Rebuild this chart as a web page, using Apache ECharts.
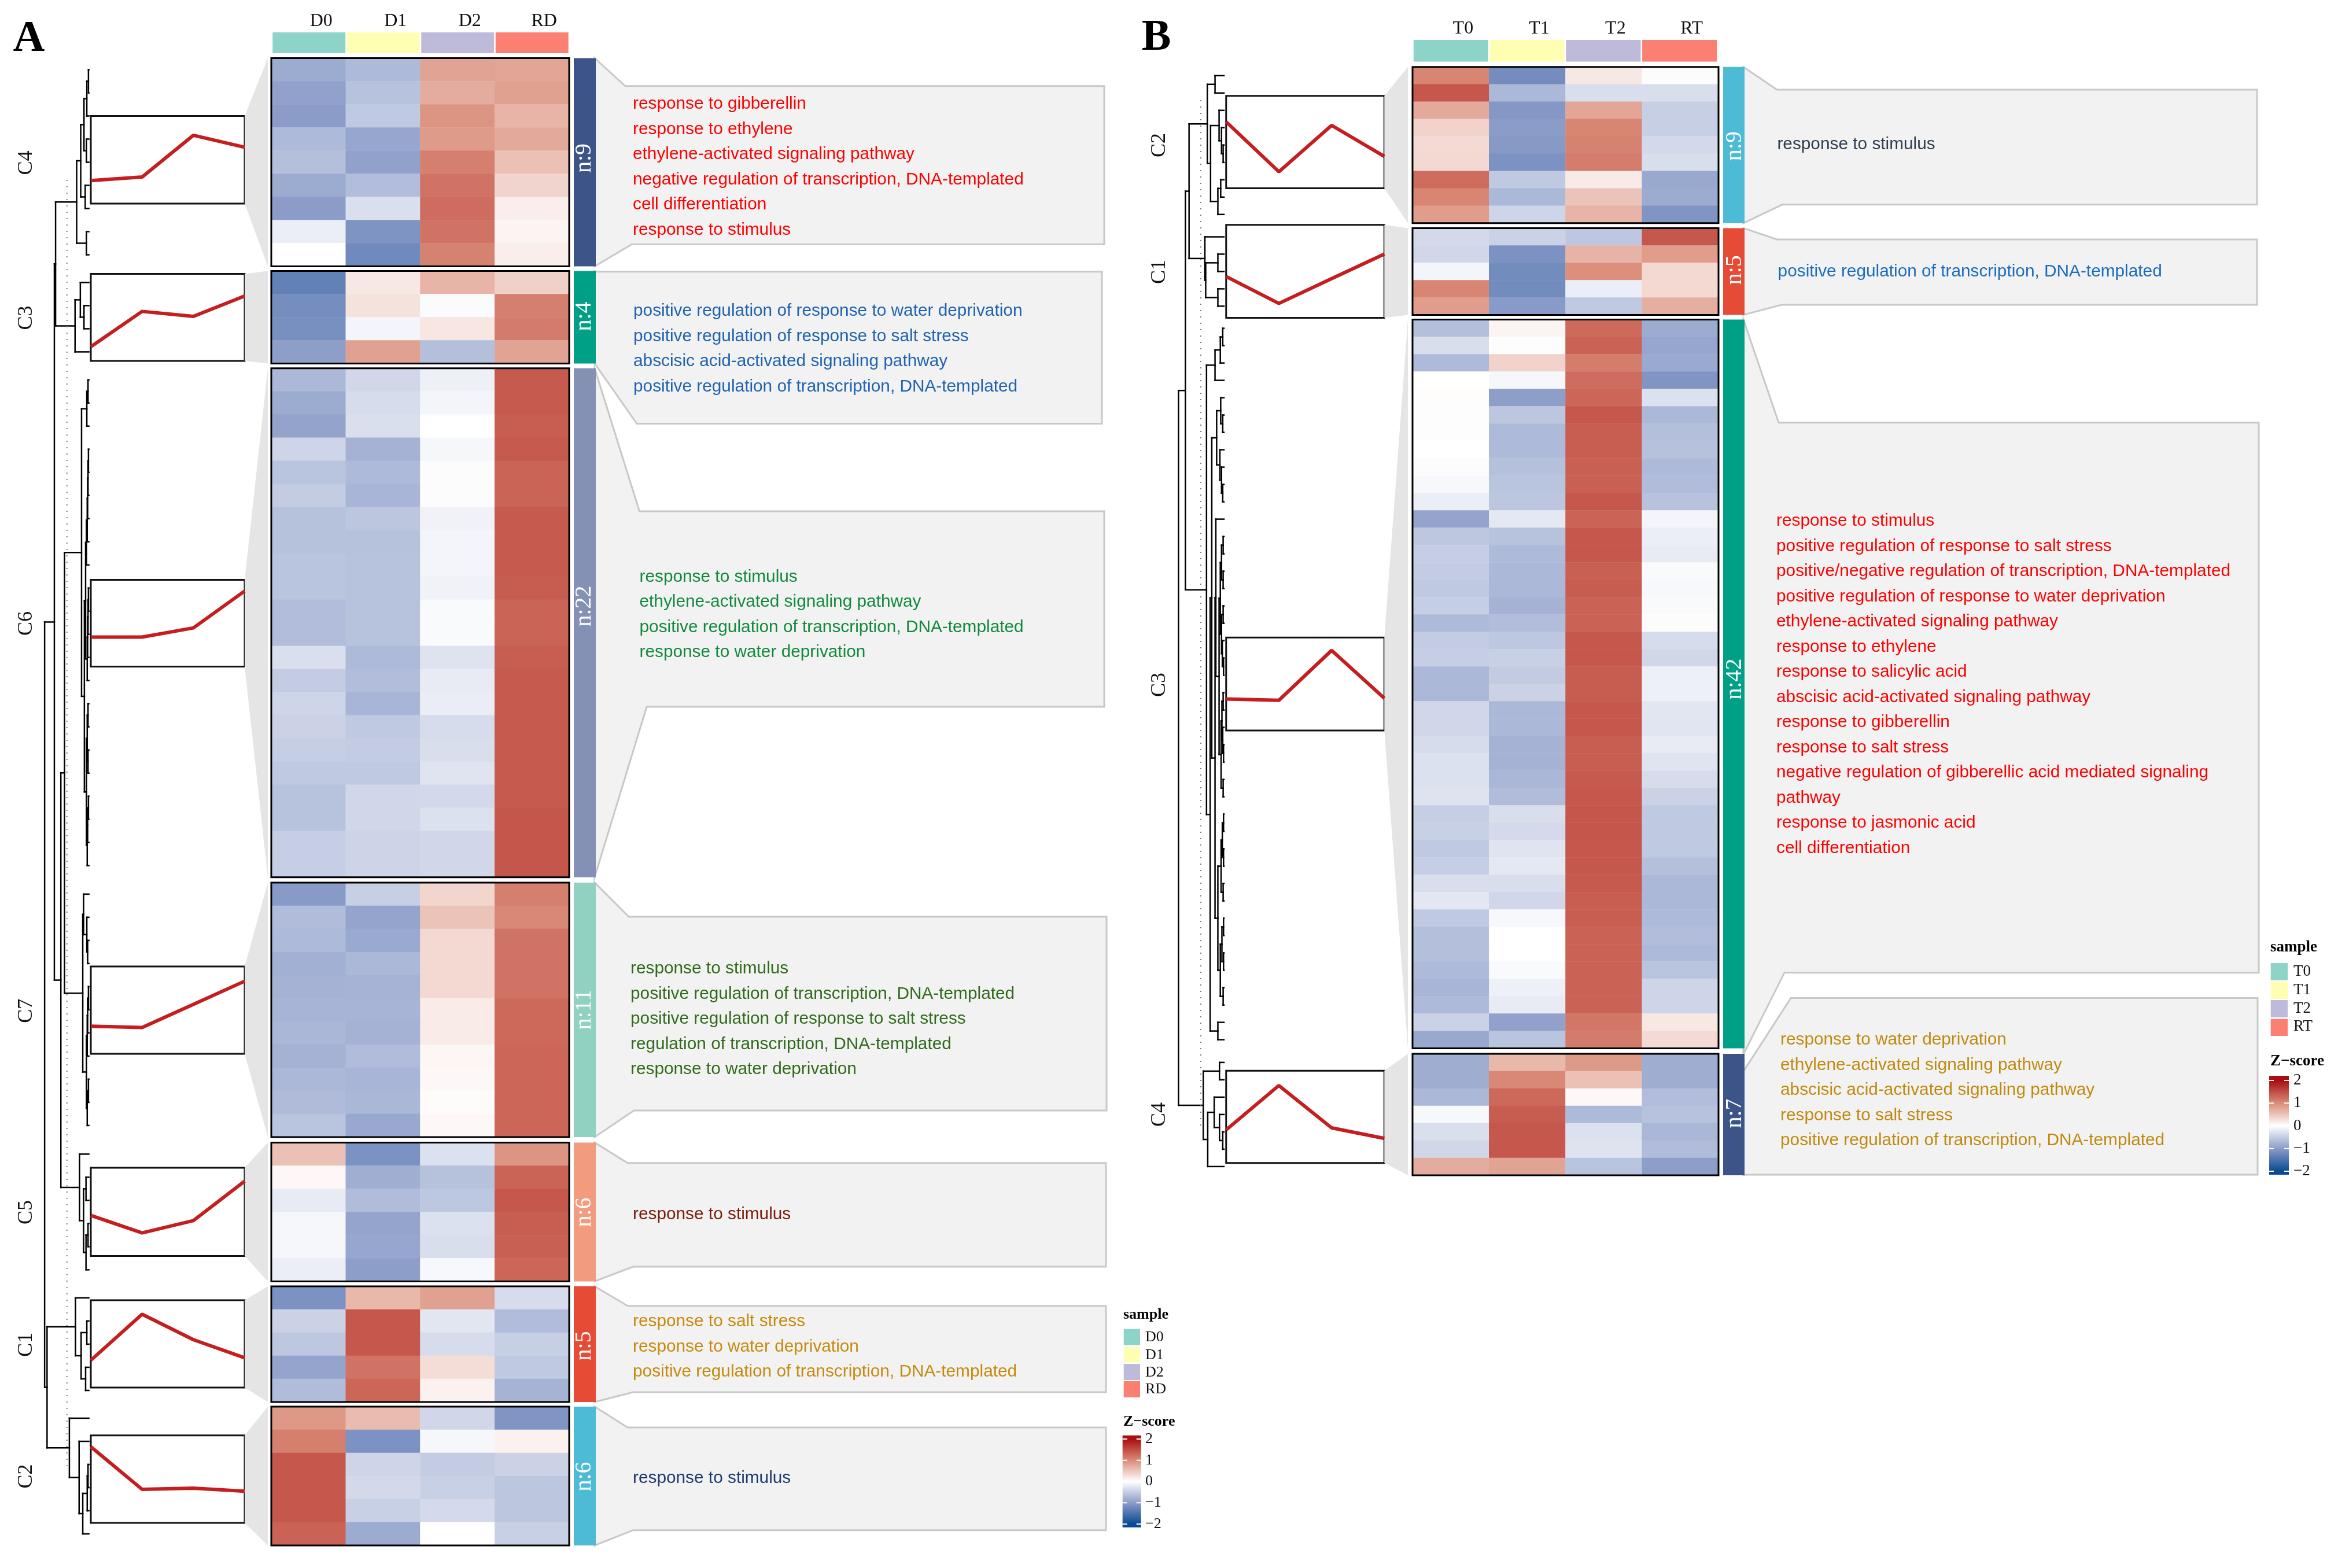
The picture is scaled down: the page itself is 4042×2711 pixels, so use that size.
<!DOCTYPE html>
<html><head><meta charset="utf-8">
<style>html,body{margin:0;padding:0;background:#fff}#c{width:4042px;height:2711px}</style>
<script src="https://cdn.jsdelivr.net/npm/echarts@6/dist/echarts.min.js"></script>
</head><body><div id="c"></div>
<script>
// ---------- data: sample names ----------
const samplesA = ['D0','D1','D2','RD'];
const samplesB = ['T0','T1','T2','RT'];
const sampleColors = ['#8dd3c7','#ffffb3','#bebada','#fb8072'];
// ---------- data: z-scores (rows x samples) ----------
const A_C4 = [[-.85,-.7,.8,.78],[-.95,-.62,.72,.82],[-1,-.55,.92,.65],[-.7,-.9,.87,.75],[-.65,-.95,1.1,.55],[-.85,-.67,1.2,.37],[-1,-.32,1.25,.15],[-.17,-1.1,1.2,.1],[0,-1.22,1.08,.15]];
const A_C3 = [[-1.32,.2,.65,.4],[-1.17,.25,-.04,1.1],[-1.15,-.1,.22,1.13],[-.98,.82,-.65,.8]];
const A_C6 = [[-.72,-.4,-.15,1.4],[-.85,-.35,-.1,1.4],[-.93,-.32,0,1.37],[-.42,-.78,-.08,1.4],[-.6,-.7,-.03,1.32],[-.52,-.75,-.03,1.32],[-.63,-.58,-.13,1.4],[-.63,-.63,-.1,1.4],[-.6,-.62,-.1,1.4],[-.6,-.62,-.13,1.38],[-.67,-.62,-.05,1.32],[-.67,-.62,-.05,1.32],[-.32,-.7,-.28,1.37],[-.52,-.67,-.2,1.4],[-.42,-.75,-.18,1.4],[-.45,-.55,-.35,1.4],[-.5,-.52,-.33,1.4],[-.55,-.55,-.27,1.4],[-.62,-.4,-.38,1.4],[-.62,-.4,-.3,1.43],[-.5,-.43,-.4,1.43],[-.5,-.43,-.4,1.43]];
const A_C7 = [[-1.02,-.48,.36,1.1],[-.68,-.92,.52,1.03],[-.7,-.87,.33,1.2],[-.8,-.72,.33,1.2],[-.78,-.77,.33,1.2],[-.76,-.76,.17,1.28],[-.73,-.78,.17,1.28],[-.78,-.68,.08,1.3],[-.72,-.75,.06,1.3],[-.69,-.73,.03,1.3],[-.6,-.88,.06,1.3]];
const A_C5 = [[.55,-1.12,-.3,.92],[.06,-.82,-.63,1.32],[-.2,-.68,-.57,1.42],[-.08,-.92,-.3,1.37],[-.08,-.9,-.33,1.35],[-.17,-.98,-.07,1.3]];
const A_C1 = [[-1.12,.62,.82,-.35],[-.45,1.42,-.25,-.68],[-.57,1.42,-.35,-.48],[-.92,1.2,.3,-.55],[-.68,1.3,.12,-.77]];
const A_C2 = [[.9,.58,-.4,-1.08],[1.1,-1.12,-.08,.12],[1.42,-.42,-.52,-.45],[1.42,-.38,-.47,-.58],[1.42,-.47,-.37,-.58],[1.33,-.85,0,-.47]];
const B_C2 = [[1.05,-1.18,.2,-.03],[1.42,-.72,-.33,-.33],[.75,-1.05,.78,-.48],[.38,-1,1.05,-.48],[.32,-1.03,1.08,-.38],[.33,-1.12,1.12,-.33],[1.25,-.55,.18,-.88],[1.05,-.72,.52,-.85],[.85,-.42,.65,-1.08]];
const B_C1 = [[-.38,-.45,-.57,1.42],[-.4,-1.12,.66,.85],[-.1,-1.2,.97,.33],[1.05,-1.2,-.17,.33],[.85,-1.02,-.55,.7]];
const B_C3 = [[-.65,.1,1.27,-.85],[-.33,-.02,1.33,-.9],[-.7,.38,1.12,-.87],[0,-.08,1.25,-1.08],[.02,-.98,1.3,-.3],[-.02,-.58,1.42,-.72],[-.02,-.7,1.37,-.65],[0,-.7,1.37,-.63],[-.03,-.64,1.35,-.7],[-.07,-.6,1.35,-.68],[-.17,-.58,1.42,-.62],[-.92,-.23,1.32,-.1],[-.57,-.62,1.42,-.17],[-.5,-.7,1.42,-.2],[-.52,-.72,1.35,-.05],[-.55,-.72,1.38,-.07],[-.5,-.78,1.33,-.05],[-.7,-.67,1.33,-.03],[-.52,-.57,1.42,-.35],[-.5,-.47,1.42,-.4],[-.72,-.53,1.38,-.15],[-.72,-.45,1.38,-.15],[-.4,-.72,1.42,-.25],[-.4,-.72,1.42,-.26],[-.35,-.78,1.37,-.2],[-.3,-.78,1.37,-.27],[-.3,-.73,1.4,-.35],[-.28,-.68,1.42,-.45],[-.5,-.33,1.43,-.55],[-.47,-.37,1.43,-.55],[-.55,-.27,1.42,-.55],[-.5,-.23,1.42,-.65],[-.33,-.33,1.4,-.72],[-.24,-.4,1.37,-.72],[-.55,-.07,1.37,-.7],[-.65,0,1.33,-.67],[-.65,0,1.33,-.7],[-.7,-.05,1.33,-.6],[-.75,-.15,1.33,-.42],[-.7,-.2,1.33,-.42],[-.45,-.95,1.17,.2],[-.88,-.6,1.13,.32]];
const B_C4 = [[-.83,.62,.88,-.83],[-.83,1.03,.55,-.83],[-.72,1.28,.06,-.67],[-.07,1.38,-.7,-.62],[-.32,1.42,-.3,-.73],[-.4,1.42,-.28,-.68],[.72,.8,-.6,-.98]];
// ---------- data: cluster trend lines (position inside each inset, 0..1) ----------
const trend_A_C4 = [.263,.303,.78,.643];
const trend_A_C3 = [.163,.569,.512,.746];
const trend_A_C6 = [.34,.34,.446,.871];
const trend_A_C7 = [.316,.301,.566,.832];
const trend_A_C5 = [.46,.261,.40,.848];
const trend_A_C1 = [.312,.839,.548,.34];
const trend_A_C2 = [.87,.383,.397,.362];
const trend_B_C2 = [.719,.179,.681,.345];
const trend_B_C1 = [.444,.155,.422,.686];
const trend_B_C3 = [.339,.325,.861,.347];
const trend_B_C4 = [.359,.84,.381,.266];
// ---------- data: GO terms ----------
const terms_A_C4 = ['response to gibberellin','response to ethylene','ethylene-activated signaling pathway','negative regulation of transcription, DNA-templated','cell differentiation','response to stimulus'];
const terms_A_C3 = ['positive regulation of response to water deprivation','positive regulation of response to salt stress','abscisic acid-activated signaling pathway','positive regulation of transcription, DNA-templated'];
const terms_A_C6 = ['response to stimulus','ethylene-activated signaling pathway','positive regulation of transcription, DNA-templated','response to water deprivation'];
const terms_A_C7 = ['response to stimulus','positive regulation of transcription, DNA-templated','positive regulation of response to salt stress','regulation of transcription, DNA-templated','response to water deprivation'];
const terms_A_C5 = ['response to stimulus'];
const terms_A_C1 = ['response to salt stress','response to water deprivation','positive regulation of transcription, DNA-templated'];
const terms_A_C2 = ['response to stimulus'];
const terms_B_C2 = ['response to stimulus'];
const terms_B_C1 = ['positive regulation of transcription, DNA-templated'];
const terms_B_C3 = ['response to stimulus','positive regulation of response to salt stress','positive/negative regulation of transcription, DNA-templated','positive regulation of response to water deprivation','ethylene-activated signaling pathway','response to ethylene','response to salicylic acid','abscisic acid-activated signaling pathway','response to gibberellin','response to salt stress','negative regulation of gibberellic acid mediated signaling','pathway','response to jasmonic acid','cell differentiation'];
const terms_B_C4 = ['response to water deprivation','ethylene-activated signaling pathway','abscisic acid-activated signaling pathway','response to salt stress','positive regulation of transcription, DNA-templated'];
// ---------- data: dendrograms, [merge height, left, right]; numbers are row indices ----------
const tree_A_C4 = [30,[20,[12,[5,[1,0,1],2],[6,3,4]],[9,5,6]],[6,7,8]];
const tree_A_C3 = [34,[21,0,[12,1,2]],3];
const tree_A_C6 = [18,[5,[2,0,1],2],[11,[8,[6,[4,[3,[2,[1,3,4],5],6],7],8],[4,[3,[2,[1,9,10],11],12],13]],[6,[4,[2,14,15],[2,16,17]],[4,[3,[1,18,19],20],21]]]];
const tree_A_C7 = [15,[13,0,[5,1,[3,2,3]]],[6,[4,[3,[1,4,5],6],7],[4,[1,8,9],10]]];
const tree_A_C5 = [23,0,[13,[7,1,2],[7,[2,3,4],5]]];
const tree_A_C1 = [33,0,[19,[5,1,2],[8,3,4]]];
const tree_A_C2 = [48,0,[24,1,[15,[4,[2,2,3],4],5]]];
const tree_B_C2 = [41,[22,0,1],[33,[12,2,[6,3,[2,4,5]]],[15,[8,6,7],8]]];
const tree_B_C1 = [47,0,[45,[15,1,2],[15,3,4]]];
const tree_B_C3 = [43,[22,[9,[3,0,1],2],3],[34,[30,[18,[8,4,[3,5,6]],[10,7,[6,8,[3,9,10]]]],[22,[20,11,[12,[9,[6,[2,12,13],[2,14,15]],[6,[2,16,17],[4,18,[1,19,20]]]],[7,[5,[2,21,22],[3,23,[1,24,25]]],[2,26,27]]]],[15,[7,[4,[1,28,29],[1,30,31]],[2,32,33]],[9,[5,[1,34,35],[1,36,37]],[2,38,39]]]]],[15,40,41]]];
const tree_B_C4 = [51,[11,0,1],[40,[24,2,[11,3,[3,4,5]]],6]];
const topTreeA = [109,[85,[82,'C4','C3'],[69,[60,'C6','C7'],'C5']],[103,'C1','C2']];
const topTreeB = [112,[95,[86,'C2','C1'],'C3'],'C4'];

// ---------- layout (pixels) ----------
const panelA = {
  samples:samplesA, letter:'A', letterX:50, letterY:68, rowH:40, heatX:469, heatW:515, bar:[992,1030], inset:[157,423], connX:463,
  labelX:45.5, nX:1010, textFont:29.8, head:{x:470,w:514,y:56,h:36,labelShift:42}, leafX:153.6, cut:[54,311,2534.6], topTree:topTreeA,
  clusters:[
   {id:'C4',rows:A_C4,trend:trend_A_C4,terms:terms_A_C4,tree:tree_A_C4,top:100.5,color:'#3c5488',inset:[200.5,352],labelY:281.6,nY:273.5,ann:[1081,148.8,1909,422.5,1092],tx:1094,ty:179.8,tc:'#ff0000'},
   {id:'C3',rows:A_C3,trend:trend_A_C3,terms:terms_A_C3,tree:tree_A_C3,top:468.4,color:'#00a087',inset:[473.5,624],labelY:549.5,nY:547,ann:[1030,469.7,1905,732.6,1101],tx:1095,ty:538,tc:'#1f62b0'},
   {id:'C6',rows:A_C6,trend:trend_A_C6,terms:terms_A_C6,tree:tree_A_C6,top:636.7,color:'#8491b4',inset:[1002.5,1152.5],labelY:1078,nY:1048,ann:[1105.5,884,1909,1222,1118],tx:1105.5,ty:997.4,tc:'#118a3c'},
   {id:'C7',rows:A_C7,trend:trend_A_C7,terms:terms_A_C7,tree:tree_A_C7,top:1525.9,color:'#91d1c2',inset:[1671,1822],labelY:1747.8,nY:1745.5,ann:[1087,1585,1913,1920,1096],tx:1090,ty:1675,tc:'#2f6b1a'},
   {id:'C5',rows:A_C5,trend:trend_A_C5,terms:terms_A_C5,tree:tree_A_C5,top:1975.4,color:'#f39b7f',inset:[2019,2171.4],labelY:2096,nY:2096,ann:[1085,2010.7,1912,2190,1094.5],tx:1094,ty:2100,tc:'#7a1c06'},
   {id:'C1',rows:A_C1,trend:trend_A_C1,terms:terms_A_C1,tree:tree_A_C1,top:2224,color:'#e64b35',inset:[2248,2399],labelY:2325,nY:2327,ann:[1085,2257.7,1912,2407,1094.5],tx:1094,ty:2285,tc:'#c68a0c'},
   {id:'C2',rows:A_C2,trend:trend_A_C2,terms:terms_A_C2,tree:tree_A_C2,top:2432,color:'#4dbbd5',inset:[2481.7,2633],labelY:2552.5,nY:2553,ann:[1085,2468,1912,2645.7,1094.5],tx:1094,ty:2556,tc:'#1e3a6e'}
  ],
  legend:{titleX:1942,sampleY:2273,sw:[1942.7,1971],swY:[[2297.7,2325.7],[2329,2355.7],[2358,2386],[2388,2416]],lx:1980,ly:[2311.7,2343,2373,2402],font:26,zY:2458,bar:[1940.7,1972.7,2481.7,2640.7],t2:2488,tm2:2635}
};
const panelB = {
  samples:samplesB, letter:'B', letterX:1999, letterY:66, rowH:30, heatX:2442, heatW:529, bar:[2979,3016], inset:[2119.8,2393.3], connX:2434,
  labelX:2004.6, nX:2999, textFont:29.8, head:{x:2442.5,w:527,y:69,h:37.6,labelShift:42}, leafX:2116, cut:[57,173,1949], topTree:topTreeB,
  clusters:[
   {id:'C2',rows:B_C2,trend:trend_B_C2,terms:terms_B_C2,tree:tree_B_C2,top:115.8,color:'#4dbbd5',inset:[165.8,325.5],labelY:251,nY:252.6,ann:[3072,155,3902,353.8,3081],tx:3072.4,ty:250,tc:'#2c3e50'},
   {id:'C1',rows:B_C1,trend:trend_B_C1,terms:terms_B_C1,tree:tree_B_C1,top:394.4,color:'#e64b35',inset:[388.8,549.5],labelY:470,nY:466.8,ann:[3072,414,3902,527,3080],tx:3073.6,ty:470,tc:'#1a6cc0'},
   {id:'C3',rows:B_C3,trend:trend_B_C3,terms:terms_B_C3,tree:tree_B_C3,top:552.6,color:'#00a087',inset:[1102.2,1263],labelY:1184,nY:1174,ann:[3075,730.7,3905,1681.7,3085],endY:1823,tx:3071,ty:901,tc:'#ff0000'},
   {id:'C4',rows:B_C4,trend:trend_B_C4,terms:terms_B_C4,tree:tree_B_C4,top:1821.9,color:'#3c5488',inset:[1851.3,2010.7],labelY:1927,nY:1925,ann:[3096,1725.6,3903,2031,3018],startY:1852.5,tx:3078,ty:1798,tc:'#c08a10'}
  ],
  legend:{titleX:3925,sampleY:1638,sw:[3925.7,3955],swY:[[1665,1695],[1697,1727],[1729,1759],[1761.7,1791]],lx:3965,ly:[1680,1711.7,1744,1775],font:27,zY:1835,bar:[3923,3957,1860,2031],t2:1868,tm2:2025}
};

const serif = '"Liberation Serif","Times New Roman",serif';
const sans = '"Liberation Sans",Arial,sans-serif';
const zStops = ['#0b4a92','#8b9cc8','#ffffff','#da8c78','#a80e12'];
const zTicks = [2,1,0,-1,-2];

const grids=[],xAxes=[],yAxes=[],series=[],graphics=[],heatIdx=[];
function addGrid(g,x,y){const n=grids.length;grids.push(Object.assign({containLabel:false},g));xAxes.push(Object.assign({gridIndex:n},x));yAxes.push(Object.assign({gridIndex:n},y));return n;}
function text(t,x,y,font,fill){graphics.push({type:'text',x,y,z:60,silent:true,style:{text:t,font,fill,textAlign:'center',textVerticalAlign:'middle'}});}
function rtext(t,x,y,font,fill){graphics.push({type:'text',x,y,rotation:Math.PI/2,z:60,silent:true,style:{text:t,font,fill,textAlign:'center',textVerticalAlign:'middle'}});}
function ltext(t,x,y,font,fill){graphics.push({type:'text',x,y,z:60,silent:true,style:{text:t,font,fill,textAlign:'left',textVerticalAlign:'middle'}});}

function drawPanel(P){
  const hiddenCat = d=>({type:'category',data:d,show:false});
  text(P.letter,P.letterX,P.letterY,'bold 76px '+serif,'#000');
  // header strip
  const hg=addGrid({left:P.head.x,top:P.head.y,width:P.head.w,height:P.head.h},
    {type:'category',data:P.samples,position:'top',axisLine:{show:false},axisTick:{show:false},
     axisLabel:{show:true,interval:0,margin:3,color:'#111',fontFamily:serif,fontSize:32,padding:[0,0,0,P.head.labelShift]}},
    {type:'value',min:0,max:1,show:false});
  series.push({type:'bar',xAxisIndex:hg,yAxisIndex:hg,barWidth:'98%',silent:true,animation:false,
    data:sampleColors.map(c=>({value:1,itemStyle:{color:c}}))});
  P.clusters.forEach(c=>{
    const n=c.rows.length,h=n*P.rowH,bottom=c.top+h;
    // connector inset -> heatmap
    graphics.push({type:'polygon',z:1,silent:true,shape:{points:[[P.inset[1],c.inset[0]],[P.connX,c.top],[P.connX,bottom],[P.inset[1],c.inset[1]]]},style:{fill:'#e5e5e5'}});
    // heatmap
    const g=addGrid({left:P.heatX,top:c.top,width:P.heatW,height:h},hiddenCat(P.samples),
      {type:'category',data:c.rows.map((_,i)=>i),show:false,inverse:true});
    const data=[];c.rows.forEach((r,i)=>r.forEach((v,j)=>data.push([j,i,v])));
    heatIdx.push(series.length);
    series.push({type:'heatmap',xAxisIndex:g,yAxisIndex:g,data,silent:true,animation:false,progressive:0,itemStyle:{borderWidth:0}});
    graphics.push({type:'rect',z:20,silent:true,shape:{x:P.heatX,y:c.top,width:P.heatW,height:h},style:{fill:'none',stroke:'#000',lineWidth:3}});
    // trend inset
    const ig=addGrid({left:P.inset[0],top:c.inset[0],width:P.inset[1]-P.inset[0],height:c.inset[1]-c.inset[0],show:true,backgroundColor:'#fff',borderColor:'#111',borderWidth:3},
      {type:'category',data:P.samples,show:false,boundaryGap:false},{type:'value',min:0,max:1,show:false});
    series.push({type:'line',xAxisIndex:ig,yAxisIndex:ig,data:c.trend,symbol:'none',silent:true,animation:false,z:5,lineStyle:{color:'#c41e20',width:6}});
    // side bar
    graphics.push({type:'rect',z:5,silent:true,shape:{x:P.bar[0],y:c.top,width:P.bar[1]-P.bar[0],height:h},style:{fill:c.color}});
    rtext('n:'+n,P.nX,c.nY,'40px '+serif,'#fff');
    rtext(c.id,P.labelX,c.labelY,'36px '+serif,'#111');
    // annotation box
    const a=c.ann,x0=P.bar[1]-2,sy=c.startY!==undefined?c.startY:c.top,ey=c.endY!==undefined?c.endY:bottom;
    graphics.push({type:'polygon',z:2,silent:true,shape:{points:[[x0,sy],[a[0],a[1]],[a[2],a[1]],[a[2],a[3]],[a[4],a[3]],[x0,ey]]},style:{fill:'#f2f2f2',stroke:'#c8c8c8',lineWidth:3}});
    c.terms.forEach((t,i)=>ltext(t,c.tx,c.ty+i*43.5,P.textFont+'px '+sans,c.tc));
  });
  // dendrogram
  const byId={};P.clusters.forEach(c=>byId[c.id]=c);
  const segs=[];
  (function build(node,c){
    if(typeof node==='number')return {h:0,y:c.top+P.rowH*(node+.5)};
    if(typeof node==='string')return build(byId[node].tree,byId[node]);
    const a=build(node[1],c),b=build(node[2],c),h=node[0];
    segs.push([a.h,a.y,h,a.y],[b.h,b.y,h,b.y],[h,a.y,h,b.y]);
    return {h,y:(a.y+b.y)/2};
  })(P.topTree,null);
  const span=130,dg=addGrid({left:P.leafX-span/1.4255,top:0,width:span/1.4255,height:2711},
    {type:'value',min:0,max:span,inverse:true,show:false},{type:'value',min:0,max:2711,inverse:true,show:false});
  series.push({type:'line',xAxisIndex:dg,yAxisIndex:dg,data:[[P.cut[0],P.cut[1]],[P.cut[0],P.cut[2]]],symbol:'none',silent:true,animation:false,z:1,lineStyle:{color:'#777',width:2,type:[2,9]}});
  series.push({type:'custom',xAxisIndex:dg,yAxisIndex:dg,data:segs,silent:true,animation:false,z:1,clip:false,
    renderItem:(p,api)=>{const s=api.coord([api.value(0),api.value(1)]),e=api.coord([api.value(2),api.value(3)]);
      return {type:'line',shape:{x1:s[0],y1:s[1],x2:e[0],y2:e[1]},style:{stroke:'#000',lineWidth:2.5,lineCap:'square'}};}});
  // legend: samples
  const L=P.legend;
  ltext('sample',L.titleX,L.sampleY,'bold '+L.font+'px '+serif,'#000');
  P.samples.forEach((s,i)=>{
    graphics.push({type:'rect',z:5,silent:true,shape:{x:L.sw[0],y:L.swY[i][0],width:L.sw[1]-L.sw[0],height:L.swY[i][1]-L.swY[i][0]},style:{fill:sampleColors[i]}});
    ltext(s,L.lx,L.ly[i],L.font+'px '+serif,'#111');
  });
  // legend: Z-score colour bar
  ltext('Z\u2212score',L.titleX,L.zY,'bold '+L.font+'px '+serif,'#000');
  const [bl,br,bt,bb]=L.bar,u=(L.tm2-L.t2)/4,zMax=2+(L.t2-bt)/u,zMin=-2-(bb-L.tm2)/u;
  const cg=addGrid({left:bl,top:bt,width:br-bl,height:bb-bt},{type:'value',min:0,max:1,show:false},
    {type:'value',min:zMin,max:zMax,position:'right',axisLine:{show:false},axisTick:{show:false},splitLine:{show:false},
     axisLabel:{customValues:zTicks,formatter:v=>String(v).replace('-','\u2212'),margin:L.lx-br,color:'#111',fontFamily:serif,fontSize:L.font,align:'left'}});
  const stops=[{offset:0,color:zStops[4]}];
  [2,1,0,-1,-2].forEach((z,i)=>stops.push({offset:(zMax-z)/(zMax-zMin),color:zStops[4-i]}));
  stops.push({offset:1,color:zStops[0]});
  series.push({type:'custom',xAxisIndex:cg,yAxisIndex:cg,data:[[0,zMax,1,zMin]],silent:true,animation:false,
    renderItem:(p,api)=>{const s=api.coord([0,zMax]),e=api.coord([1,zMin]);
      return {type:'rect',shape:{x:s[0],y:s[1],width:e[0]-s[0],height:e[1]-s[1]},style:{fill:new echarts.graphic.LinearGradient(0,0,0,1,stops)}};}});
  series.push({type:'custom',xAxisIndex:cg,yAxisIndex:cg,data:zTicks.map(z=>[z]),silent:true,animation:false,z:6,
    renderItem:(p,api)=>{const z=api.value(0),a=api.coord([0,z]),b=api.coord([1,z]),len=8;
      const st={stroke:'#fff',lineWidth:2};
      return {type:'group',children:[{type:'line',shape:{x1:a[0],y1:a[1],x2:a[0]+len,y2:a[1]},style:st},{type:'line',shape:{x1:b[0]-len,y1:b[1],x2:b[0],y2:b[1]},style:st}]};}});
}
drawPanel(panelA);
drawPanel(panelB);

const chart=echarts.init(document.getElementById('c'),null,{renderer:'canvas',width:4042,height:2711});
chart.setOption({
  animation:false,backgroundColor:'#fff',
  grid:grids,xAxis:xAxes,yAxis:yAxes,series,
  visualMap:{type:'continuous',show:false,min:-2,max:2,dimension:2,seriesIndex:heatIdx,inRange:{color:zStops}},
  graphic:{elements:graphics}
});
</script></body></html>
